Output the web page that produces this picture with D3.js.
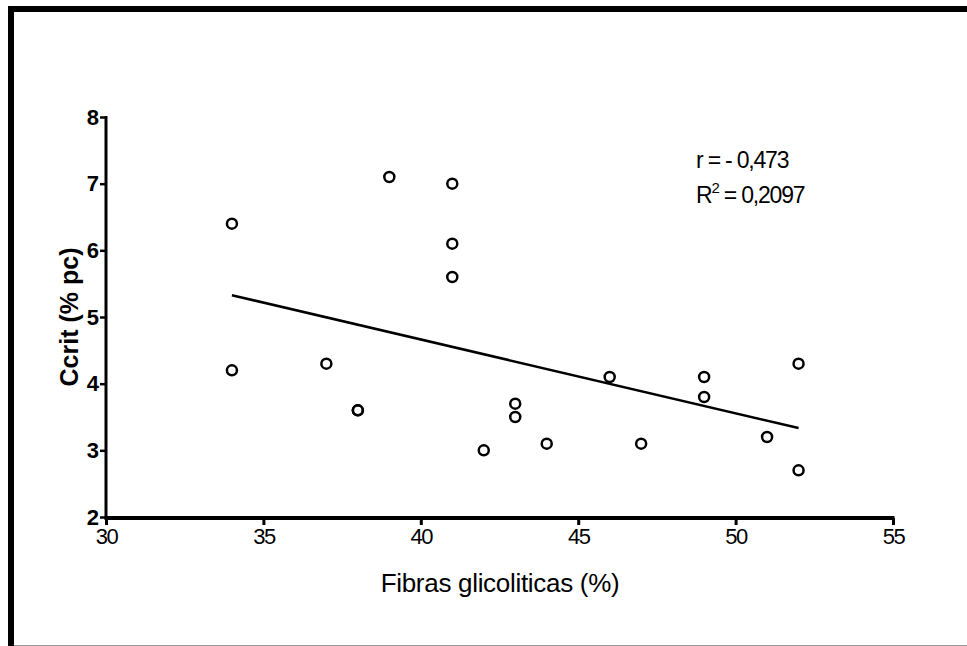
<!DOCTYPE html>
<html>
  <head>
    <script src="https://d3js.org/d3.v7.min.js"></script>
    <style>
      body { margin: 0; background: #fff; }
      text { font-family: "Liberation Sans", Arial, sans-serif; fill: #000; }
    </style>
  </head>
  <body>
  <svg width="967" height="646"></svg>
  <script>
      // data
      var fibras = [34, 34, 37, 38, 38, 39, 41, 41, 41, 42, 43, 43, 44, 46, 47, 49, 49, 51, 52, 52];
      var ccrit  = [6.4, 4.2, 4.3, 3.6, 3.6, 7.1, 7.0, 6.1, 5.6, 3.0, 3.7, 3.5, 3.1, 4.1, 3.1, 4.1, 3.8, 3.2, 4.3, 2.7];
      var xTicks = [30, 35, 40, 45, 50, 55];
      var yTicks = [2, 3, 4, 5, 6, 7, 8];
      var statLines = ["r = - 0,473", "R2 = 0,2097"];

      var svg = d3.select('svg');

      var xScale = d3.scaleLinear().domain([30, 55]).range([106, 893]);
      var yScale = d3.scaleLinear().domain([2, 8]).range([517, 117]);

      // frame
      svg.append('path')
        .attr('d', 'M11,646 V9 H967')
        .attr('fill', 'none')
        .attr('stroke', '#000')
        .attr('stroke-width', 6);
      svg.append('line')
        .attr('x1', 14).attr('x2', 967).attr('y1', 645.5).attr('y2', 645.5)
        .attr('stroke', '#999').attr('stroke-width', 1);

      // axes
      var xAxis = d3.axisBottom(xScale).tickValues(xTicks).tickSize(7).tickSizeOuter(0).tickFormat(d3.format('d'));
      var yAxis = d3.axisLeft(yScale).tickValues(yTicks).tickSize(6).tickSizeOuter(0).tickFormat(d3.format('d'));

      var gx = svg.append('g')
        .attr('transform', 'translate(0,518)')
        .call(xAxis);
      gx.select('.domain').attr('stroke-width', 4).attr('d', 'M' + (xScale(30) - 1.5) + ',0H' + (xScale(55) + 1.5));
      gx.selectAll('.tick line').attr('stroke-width', 3);
      gx.selectAll('.tick text')
        .attr('y', 10)
        .style('font-size', '22px')
        .style('letter-spacing', '-1.5px');

      var gy = svg.append('g')
        .attr('transform', 'translate(106,0)')
        .call(yAxis);
      gy.select('.domain').attr('stroke-width', 3).attr('d', 'M0,' + (yScale(8) - 1) + 'V' + (yScale(2) + 2));
      gy.selectAll('.tick line').attr('stroke-width', 2.5);
      gy.selectAll('.tick text')
        .attr('x', -7)
        .style('font-size', '22px')
        .style('font-weight', 'bold');

      // axis labels
      svg.append('text')
        .attr('x', 500)
        .attr('y', 592)
        .style('text-anchor', 'middle')
        .style('font-size', '26px')
        .style('letter-spacing', '-0.3px')
        .text('Fibras glicoliticas (%)');

      svg.append('text')
        .attr('transform', 'translate(78,317) rotate(-90)')
        .style('text-anchor', 'middle')
        .style('font-size', '25px')
        .style('font-weight', 'bold')
        .text('Ccrit (% pc)');

      // regression line from the points
      var mx = d3.mean(fibras), my = d3.mean(ccrit);
      var sxy = d3.sum(fibras, (x, i) => (x - mx) * (ccrit[i] - my));
      var sxx = d3.sum(fibras, x => (x - mx) * (x - mx));
      var slope = sxy / sxx, icpt = my - slope * mx;
      var xr = d3.extent(fibras);

      svg.append('line')
        .attr('x1', xScale(xr[0])).attr('y1', yScale(icpt + slope * xr[0]))
        .attr('x2', xScale(xr[1])).attr('y2', yScale(icpt + slope * xr[1]))
        .attr('stroke', '#000')
        .attr('stroke-width', 2.5);

      // points
      svg.append('g')
        .selectAll('circle')
        .data(fibras)
        .enter().append('circle')
        .attr('cx', d => xScale(d))
        .attr('cy', (d, i) => yScale(ccrit[i]))
        .attr('r', 5)
        .attr('fill', 'none')
        .attr('stroke', '#000')
        .attr('stroke-width', 2.5);

      // stats
      svg.append('text')
        .attr('x', 696).attr('y', 168)
        .style('font-size', '23px')
        .style('letter-spacing', '-1.2px')
        .text(statLines[0]);

      var t2 = svg.append('text')
        .attr('x', 696).attr('y', 203)
        .style('font-size', '23px')
        .style('letter-spacing', '-1.2px');
      t2.append('tspan').text('R');
      t2.append('tspan').attr('dy', -10).style('font-size', '15px').text('2');
      t2.append('tspan').attr('dy', 10).text(' = 0,2097');
  </script>
  </body>
</html>
